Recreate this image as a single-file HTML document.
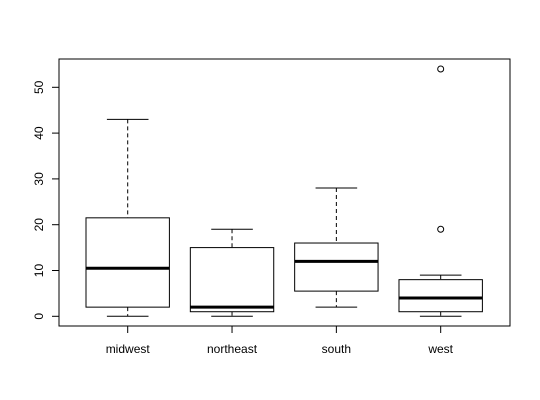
<!DOCTYPE html>
<html><head><meta charset="utf-8"><style>body{margin:0;background:#fff}svg{display:block}text{font-family:"Liberation Sans",sans-serif;font-size:12px;fill:#000}</style></head>
<body>
<svg id="chart" width="540" height="400" xmlns="http://www.w3.org/2000/svg"></svg>
<script>
const categories=["midwest","northeast","south","west"];
const mins=[0,0,2,0];
const q1s=[2,1,5.5,1];
const medians=[10.5,2,12,4];
const q3s=[21.5,15,16,8];
const maxs=[43,19,28,9];
const outlierCats=[3,3];
const outlierVals=[19,54];
const yTicks=[0,10,20,30,40,50];

const svg=document.getElementById('chart');
const NS="http://www.w3.org/2000/svg";
const L=59,R=510,T=59,B=326;
const y=v=>316.3-v*4.58;
const x=i=>127.7+i*104.33;
const hw=41.7,cw=20.8;
function mk(tag,attrs,parent){const e=document.createElementNS(NS,tag);for(const k in attrs)e.setAttribute(k,attrs[k]);(parent||svg).appendChild(e);return e;}

const frame=mk('rect',{x:L,y:T,width:R-L,height:B-T,fill:'none',stroke:'#000'});



const yAxis=mk('g',{});


mk('line',{x1:L,x2:L,y1:y(0),y2:y(50),stroke:'#000'},yAxis);
yTicks.forEach(t=>{
  mk('line',{x1:L-7,x2:L,y1:y(t),y2:y(t),stroke:'#000'},yAxis);
  const tx=mk('text',{x:43,y:y(t),'text-anchor':'middle',transform:`rotate(-90 43 ${y(t)})`},yAxis);
  tx.textContent=t;
  
  
});

categories.forEach((c,i)=>{
  const g=mk('g',{});
  
  
  const cx=x(i);
  mk('line',{x1:cx,x2:cx,y1:y(maxs[i]),y2:y(q3s[i]),stroke:'#000','stroke-dasharray':'4,3'},g);
  mk('line',{x1:cx,x2:cx,y1:y(q1s[i]),y2:y(mins[i]),stroke:'#000','stroke-dasharray':'4,3'},g);
  mk('line',{x1:cx-cw,x2:cx+cw,y1:y(maxs[i]),y2:y(maxs[i]),stroke:'#000'},g);
  mk('line',{x1:cx-cw,x2:cx+cw,y1:y(mins[i]),y2:y(mins[i]),stroke:'#000'},g);
  mk('rect',{x:cx-hw,y:y(q3s[i]),width:2*hw,height:y(q1s[i])-y(q3s[i]),fill:'#fff',stroke:'#000'},g);
  mk('line',{x1:cx-hw,x2:cx+hw,y1:y(medians[i]),y2:y(medians[i]),stroke:'#000','stroke-width':3},g);
  mk('line',{x1:cx,x2:cx,y1:B,y2:B+7,stroke:'#000'},g);
  const tx=mk('text',{x:cx,y:353,'text-anchor':'middle'},g);
  tx.textContent=c;
  
  
});
outlierVals.forEach((v,k)=>{
  const o=mk('circle',{cx:x(outlierCats[k]),cy:y(v),r:3,fill:'none',stroke:'#000'});
  
  
});
</script>
</body></html>
